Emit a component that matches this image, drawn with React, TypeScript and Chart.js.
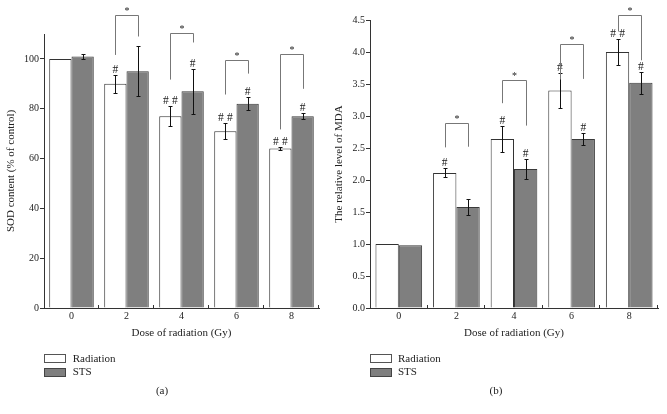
import React, { useEffect, useRef } from 'react';
import { Chart, registerables } from 'chart.js';

Chart.register(...registerables);

const FONT = "'Liberation Serif', 'Times New Roman', serif";

const categories = ['0', '2', '4', '6', '8'];
const seriesNames = ['Radiation', 'STS'];

// Panel (a): SOD content (% of control)
const sodRadiation = [100, 90, 77, 71, 64];
const sodRadiationErr = [0, 3.5, 4, 3.3, 0.7];
const sodSTS = [101, 95, 87, 82, 77];
const sodSTSErr = [1, 10, 9, 2.7, 1.2];
const sodRadiationMarks = ['', '#', '##', '##', '##'];
const sodSTSMarks = ['', '', '#', '#', '#'];
// [category index, left leg bottom, bracket top, right leg bottom]
const sodBrackets = [
  [1, 101.6, 117.8, 109],
  [2, 91.7, 110.4, 106.6],
  [3, 85.7, 99.6, 94.1],
  [4, 71.7, 102.1, 88],
];
const sodTicks = [0, 20, 40, 60, 80, 100];

// Panel (b): relative level of MDA
const mdaRadiation = [1.0, 2.11, 2.64, 3.4, 4.0];
const mdaRadiationErr = [0, 0.07, 0.21, 0.27, 0.21];
const mdaSTS = [0.98, 1.58, 2.17, 2.64, 3.52];
const mdaSTSErr = [0, 0.13, 0.16, 0.1, 0.17];
const mdaRadiationMarks = ['', '#', '#', '#', '##'];
const mdaSTSMarks = ['', '', '#', '#', '#'];
const mdaBrackets = [
  [1, 2.51, 2.89, 2.52],
  [2, 3.2, 3.56, 2.85],
  [3, 3.57, 4.12, 3.58],
  [4, 4.32, 4.58, 3.87],
];
const mdaTicks = [0, 0.5, 1.0, 1.5, 2.0, 2.5, 3.0, 3.5, 4.0, 4.5];

type PanelCfg = {
  a: number[]; aErr: number[]; aMarks: string[];
  b: number[]; bErr: number[]; bMarks: string[];
  brackets: number[][];
};

function annotationPlugin(cfg: PanelCfg) {
  return {
    id: 'annot',
    afterDatasetsDraw(chart: any) {
      const ctx = chart.ctx as CanvasRenderingContext2D;
      const ys = chart.scales.y;
      const xs = chart.scales.x;
      const metas = [chart.getDatasetMeta(0), chart.getDatasetMeta(1)];
      const vals = [cfg.a, cfg.b];
      const errs = [cfg.aErr, cfg.bErr];
      const marks = [cfg.aMarks, cfg.bMarks];
      ctx.save();
      // error bars
      ctx.strokeStyle = '#111';
      ctx.lineWidth = 1;
      metas.forEach((meta: any, d: number) => {
        meta.data.forEach((bar: any, i: number) => {
          const e = errs[d][i];
          if (!e) return;
          const xp = Math.round(bar.x) + 0.5;
          const t = Math.round(ys.getPixelForValue(vals[d][i] + e)) + 0.5;
          const b = Math.round(ys.getPixelForValue(vals[d][i] - e)) + 0.5;
          ctx.beginPath();
          ctx.moveTo(xp, t); ctx.lineTo(xp, b);
          ctx.moveTo(xp - 2, t); ctx.lineTo(xp + 2, t);
          ctx.moveTo(xp - 2, b); ctx.lineTo(xp + 2, b);
          ctx.stroke();
        });
      });
      // significance marks
      ctx.fillStyle = '#222';
      ctx.font = `11.5px ${FONT}`;
      ctx.textAlign = 'center';
      ctx.textBaseline = 'alphabetic';
      metas.forEach((meta: any, d: number) => {
        meta.data.forEach((bar: any, i: number) => {
          const m = marks[d][i];
          if (!m) return;
          const top = ys.getPixelForValue(vals[d][i] + errs[d][i]) - 2;
          if (m === '##') {
            ctx.fillText('#', bar.x - 4.5, top);
            ctx.fillText('#', bar.x + 4.5, top);
          } else {
            ctx.fillText('#', bar.x, top);
          }
        });
      });
      // brackets
      ctx.strokeStyle = '#777';
      ctx.font = `10px ${FONT}`;
      cfg.brackets.forEach(([idx, lb, top, rb]) => {
        const x1 = Math.round(metas[0].data[idx].x) + 0.5;
        const x2 = Math.round(metas[1].data[idx].x) + 0.5;
        const yl = ys.getPixelForValue(lb);
        const yt = Math.round(ys.getPixelForValue(top)) + 0.5;
        const yr = ys.getPixelForValue(rb);
        ctx.beginPath();
        ctx.moveTo(x1, yl); ctx.lineTo(x1, yt); ctx.lineTo(x2, yt); ctx.lineTo(x2, yr);
        ctx.stroke();
        ctx.fillText('*', (x1 + x2) / 2, yt - 2);
      });
      // small inner tick marks on x axis at category boundaries
      ctx.strokeStyle = '#333';
      const n = categories.length;
      const by = xs.top;
      for (let i = 1; i <= n; i++) {
        const px = Math.round(xs.left + ((xs.right - xs.left) * i) / n) - 0.5;
        ctx.beginPath();
        ctx.moveTo(px, by); ctx.lineTo(px, by - 3);
        ctx.stroke();
      }
      ctx.restore();
    },
  };
}

function makeConfig(
  cfg: PanelCfg, yTitle: string, yMax: number, ticks: number[], tickFmt: (v: number) => string,
  padding: any, yWidth: number, titlePadTop: number
) {
  return {
    type: 'bar' as const,
    data: {
      labels: categories,
      datasets: [
        {
          label: seriesNames[0], data: cfg.a, backgroundColor: '#ffffff', borderColor: '#333333',
          borderWidth: 1, borderSkipped: 'start', categoryPercentage: 0.81, barPercentage: 1.0,
        },
        {
          label: seriesNames[1], data: cfg.b, backgroundColor: '#7f7f7f', borderColor: '#3a3a3a',
          borderWidth: 1, borderSkipped: 'start', categoryPercentage: 0.81, barPercentage: 1.0,
        },
      ],
    },
    options: {
      responsive: false,
      animation: false,
      devicePixelRatio: 1,
      layout: { padding },
      plugins: { legend: { display: false }, tooltip: { enabled: false } },
      scales: {
        x: {
          offset: true,
          grid: { display: false, drawTicks: false },
          border: { display: true, color: '#333', width: 1 },
          ticks: { color: '#222', font: { family: FONT, size: 10 }, padding: 2, maxRotation: 0 },
          title: { display: true, text: 'Dose of radiation (Gy)', color: '#222', font: { family: FONT, size: 11 }, padding: { top: 0, bottom: 0 } },
          afterFit: (s: any) => { s.height = 32; },
        },
        y: {
          min: 0,
          max: yMax,
          afterBuildTicks: (s: any) => { s.ticks = ticks.map((v) => ({ value: v })); },
          grid: { drawOnChartArea: false, drawTicks: true, tickLength: 4, color: '#333' },
          border: { display: true, color: '#333', width: 1 },
          ticks: { color: '#222', font: { family: FONT, size: 10 }, padding: 1, callback: (v: any) => tickFmt(Number(v)) },
          title: { display: true, text: yTitle, color: '#222', font: { family: FONT, size: 11 }, padding: { top: titlePadTop, bottom: 0 } },
          afterFit: (s: any) => { s.width = yWidth; },
        },
      },
    },
    plugins: [annotationPlugin(cfg)],
  };
}

function Panel(props: { left: number; width: number; config: any }) {
  const ref = useRef<HTMLCanvasElement>(null);
  useEffect(() => {
    const chart = new Chart(ref.current as HTMLCanvasElement, props.config);
    return () => chart.destroy();
  }, []);
  return (
    <canvas
      ref={ref}
      width={props.width}
      height={414}
      style={{ position: 'absolute', left: props.left, top: 0, width: props.width, height: 414 }}
    />
  );
}

const textStyle: React.CSSProperties = {
  position: 'absolute', fontFamily: FONT, fontSize: 11, lineHeight: '11px', color: '#222', whiteSpace: 'nowrap',
};

function Legend(props: { x: number; textX: number }) {
  return (
    <>
      <div style={{ position: 'absolute', left: props.x, top: 354, width: 22, height: 9, boxSizing: 'border-box', border: '1px solid #555', background: '#fff' }} />
      <div style={{ ...textStyle, left: props.textX, top: 352.5 }}>{seriesNames[0]}</div>
      <div style={{ position: 'absolute', left: props.x, top: 368, width: 22, height: 9, boxSizing: 'border-box', border: '1px solid #444', background: '#7f7f7f' }} />
      <div style={{ ...textStyle, left: props.textX, top: 365.8 }}>{seriesNames[1]}</div>
    </>
  );
}

export default function App() {
  const sodCfg: PanelCfg = {
    a: sodRadiation, aErr: sodRadiationErr, aMarks: sodRadiationMarks,
    b: sodSTS, bErr: sodSTSErr, bMarks: sodSTSMarks, brackets: sodBrackets,
  };
  const mdaCfg: PanelCfg = {
    a: mdaRadiation, aErr: mdaRadiationErr, aMarks: mdaRadiationMarks,
    b: mdaSTS, bErr: mdaSTSErr, bMarks: mdaSTSMarks, brackets: mdaBrackets,
  };
  const leftConfig = makeConfig(sodCfg, 'SOD content (% of control)', 110, sodTicks, (v) => String(v),
    { left: 0, top: 34, right: 14, bottom: 74 }, 44, 5);
  const rightConfig = makeConfig(mdaCfg, 'The relative level of MDA', 4.5, mdaTicks, (v) => v.toFixed(1),
    { left: 0, top: 20, right: 9, bottom: 74 }, 37, 0);
  return (
    <div style={{ position: 'fixed', left: 0, top: 0, width: 667, height: 414, background: '#fff', overflow: 'hidden' }}>
      <Panel left={0} width={333} config={leftConfig} />
      <Panel left={333} width={334} config={rightConfig} />
      <Legend x={44} textX={72.7} />
      <Legend x={370} textX={398} />
      <div style={{ ...textStyle, left: 142, width: 40, textAlign: 'center', top: 385.3 }}>(a)</div>
      <div style={{ ...textStyle, left: 476, width: 40, textAlign: 'center', top: 385.3 }}>(b)</div>
    </div>
  );
}
